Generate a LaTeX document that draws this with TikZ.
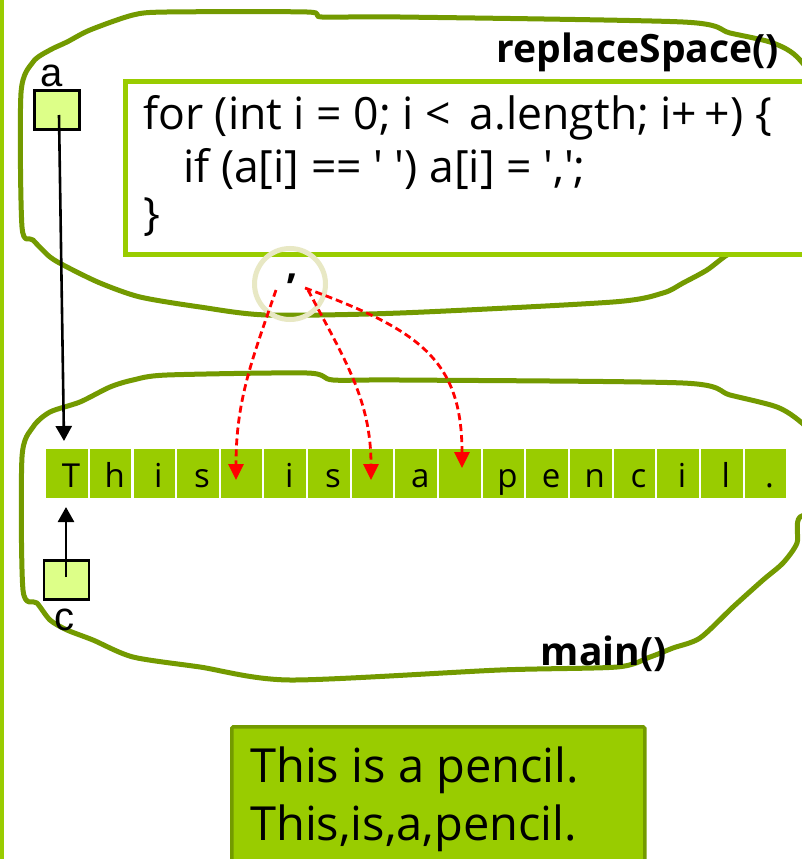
\documentclass[tikz,border=0pt]{standalone}
\usepackage{fontspec}
\setmainfont{Open Sans}
\newfontfamily\codefont{Open Sans}
\newfontfamily\arialfont{Liberation Sans}
\usetikzlibrary{arrows.meta}
\definecolor{lgreen}{RGB}{153,204,0}
\definecolor{dgreen}{RGB}{115,154,0}
\definecolor{paleyel}{RGB}{221,255,136}
\definecolor{ringcol}{RGB}{232,232,196}
\definecolor{redarr}{RGB}{255,0,0}
\tikzset{
  blob/.style={draw=dgreen,line width=5pt,line join=round},
  cellbox/.style={fill=lgreen,draw=none,minimum width=41.6pt,minimum height=48.5pt,inner sep=0pt},
  celltxt/.style={font=\codefont\fontsize{33}{33}\selectfont,anchor=base,inner sep=0pt},
  varbox/.style={draw=black,line width=2.6pt,fill=paleyel,minimum width=45pt,minimum height=39pt,inner sep=0pt},
  varlbl/.style={font=\arialfont\fontsize{40}{40}\selectfont,inner sep=0pt},
  ptr/.style={draw=black,line width=2.6pt,-{Triangle[width=16pt,length=15pt]}},
  repl/.style={draw=redarr,line width=2.8pt,dash pattern=on 7pt off 4pt,-{Triangle[width=15pt,length=16pt]}},
  code/.style={font=\codefont\fontsize{44.5}{51}\selectfont,anchor=base west,inner sep=0pt},
  title/.style={font=\bfseries\fontsize{39}{39}\selectfont,anchor=base east,inner sep=0pt},
}
\begin{document}
\begin{tikzpicture}[x=1pt,y=-1pt]
\useasboundingbox (0,0) rectangle (802,859);
\clip (0,0) rectangle (802,859);
\fill[white] (0,0) rectangle (802,859);
% left rule
\draw[lgreen,line width=4pt] (2,0) -- (2,859);
% top blob (replaceSpace)
\draw[blob] plot[smooth cycle,tension=0.45] coordinates {
 (21,93) (33,62) (50,50) (67,42) (90,30) (133,15) (167,12) (307,12) (322,17) (400,17)
 (683,22) (730,33) (773,43) (800,60) (840,120) (840,220) (780,238) (745,248) (727,255)
 (707,270) (683,283) (663,293) (613,302) (400,313) (267,315) (200,307) (140,297) (100,283)
 (67,267) (50,257) (33,240) (22,227)};
% bottom blob (main)
\draw[blob] plot[smooth cycle,tension=0.45] coordinates {
 (22,457) (33,427) (50,412) (80,402) (110,387) (133,380) (167,375) (307,373) (333,380) (400,380)
 (683,383) (730,395) (777,407) (802,423) (840,460) (840,505) (800,517) (797,543) (783,563)
 (763,580) (733,607) (700,638) (673,648) (650,657) (617,667) (500,670) (290,680) (200,667)
 (133,657) (93,640) (67,630) (50,620) (37,603) (23,590)};
% code box
\node[draw=lgreen,line width=5pt,fill=white,minimum width=700pt,minimum height=173pt,anchor=north west,inner sep=0pt] (codebox) at (123,79) {};
\node[code] (l1) at (143,129) {for (int i = 0; i <\, a.length; i+\,+) \{};
\node[code] (l2) at (183,182) {if (a[i] == ' ') a[i] = ',';};
\node[code] (l3) at (143,229) {\}};
\node[title] (rs) at (779,63) {replaceSpace()};
% comma ring
\node[draw=ringcol,line width=5pt,circle,minimum size=71pt,inner sep=0pt] (ring) at (290,284) {};
\node[font=\bfseries\fontsize{40}{40}\selectfont,inner sep=0pt] (comma) at (292,279) {,};
% cells
\foreach \ch [count=\k from 0] in {T,h,i,s,{},i,s,{},a,{},p,e,n,c,i,l,.}{
  \node[cellbox] (c\k) at ({67+43.65*\k},473.5) {};
  \node[celltxt] (t\k) at ({71+43.65*\k},487) {\ch};
}
% main title
\node[title] (mn) at (667,665) {main()};
% variable a
\node[varbox] (va) at (57,110) {};
\node[varlbl,anchor=base] (la) at (52,86) {a};
\coordinate (vac) at (59,115);
\coordinate (ttop) at (64,441);
\draw[ptr] (vac) -- (ttop);
% variable c
\node[varbox] (vc) at (66.5,580) {};
\node[varlbl,anchor=base] (lc) at (64,630) {c};
\coordinate (vcc) at (66,577);
\coordinate (tbot) at (66,507);
\draw[ptr] (vcc) -- (tbot);
% replacement arrows
\coordinate (s1) at (276,290);
\coordinate (s2) at (308,290);
\coordinate (s3) at (305,288);
\coordinate (e1) at (236,480);
\coordinate (e2) at (371,480);
\coordinate (e3) at (462,468);
\draw[repl] (s1) .. controls (252,360) and (236,400) .. (e1);
\draw[repl] (s2) .. controls (345,360) and (371,400) .. (e2);
\draw[repl] (s3) .. controls (420,330) and (462,360) .. (e3);
% output box
\node[draw=dgreen,line width=3.5pt,fill=lgreen,minimum width=413pt,minimum height=160pt,anchor=north west,inner sep=0pt,rounded corners=1.5pt] (out) at (230,725) {};
\node[font=\fontsize{47}{58}\selectfont,anchor=base west,inner sep=0pt] (o1) at (250,782) {This is a pencil.};
\node[font=\fontsize{47}{58}\selectfont,anchor=base west,inner sep=0pt] (o2) at (250,840) {This,is,a,pencil.};
\end{tikzpicture}
\end{document}
